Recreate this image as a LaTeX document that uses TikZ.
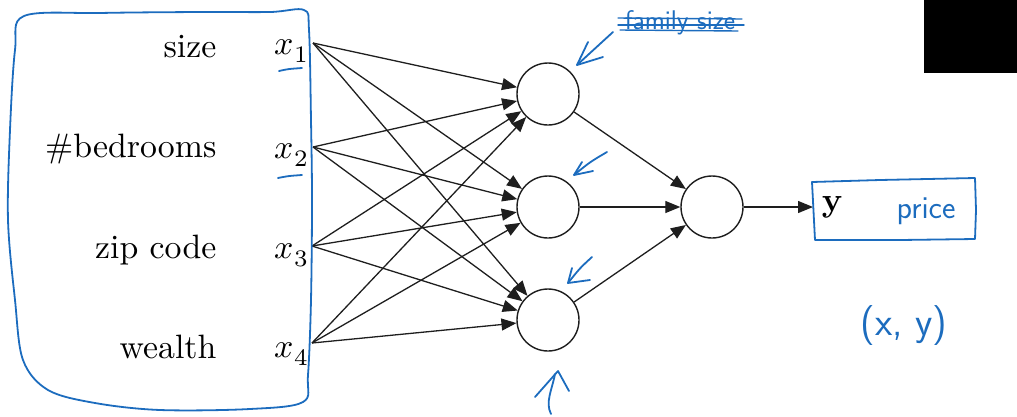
\documentclass[tikz,border=0pt]{standalone}
\usepackage{unicode-math}
\setmathfont{Latin Modern Math}
\usetikzlibrary{arrows.meta}
\definecolor{pen}{RGB}{28,108,190}
\definecolor{wire}{RGB}{30,30,30}
\begin{document}
\begin{tikzpicture}[x=1pt,y=-1pt,
  lbl/.style={font=\fontsize{10}{12}\selectfont, scale=3.38, inner sep=0pt},
  neuron/.style={circle, draw=wire, line width=1.4pt, minimum size=62pt, inner sep=0pt},
  conn/.style={draw=wire, line width=1.3pt, -{Triangle[length=15pt,width=12pt]}},
  ink/.style={draw=pen, line width=1.8pt, line cap=round, line join=round},
  hand/.style={text=pen, font=\sffamily\fontsize{30}{36}\selectfont, inner sep=0pt}]
\useasboundingbox (0,0) rectangle (1017,416);
\fill[black] (924,0) rectangle (1017,73);

% input labels
\node[lbl, anchor=base east] (l1) at (217,57) {size};
\node[lbl, anchor=base east] (l2) at (217,157) {\#bedrooms};
\node[lbl, anchor=base east] (l3) at (217,258) {zip code};
\node[lbl, anchor=base east] (l4) at (217,358) {wealth};
\node[lbl, anchor=base west] (x1) at (274,54) {$x_1$};
\node[lbl, anchor=base west] (x2) at (274,158) {$x_2$};
\node[lbl, anchor=base west] (x3) at (274,258) {$x_3$};
\node[lbl, anchor=base west] (x4) at (274,357) {$x_4$};
\coordinate (i1) at (313,43);
\coordinate (i2) at (313,147);
\coordinate (i3) at (312,246);
\coordinate (i4) at (312,343);

% neurons
\node[neuron] (h1) at (548,94) {};
\node[neuron] (h2) at (548,207) {};
\node[neuron] (h3) at (548,320) {};
\node[neuron] (o) at (712,207) {};
\node[font=\bfseries\fontsize{10}{12}\selectfont, scale=3.38, inner ysep=0pt, inner xsep=2.4pt, anchor=west] (y) at (813,207) {y};

\foreach \i in {1,...,4}{
  \foreach \j in {1,2,3}{
    \draw[conn] (i\i) -- (h\j);
  }
}
\foreach \j in {1,2,3}{ \draw[conn] (h\j) -- (o); }
\draw[conn] (o) -- (y.west);

% hand-drawn annotations
\draw[ink] plot[smooth cycle, tension=0.55] coordinates {
  (24,16) (100,13) (200,12) (270,12) (304,10) (309,30) (311,120) (312,200)
  (311,300) (308,375) (303,402) (250,409) (160,410) (95,403) (48,390)
  (23,360) (15,300) (8,220) (10,130) (15,50)};
\draw[ink] (279,71) .. controls (288,69) .. (302,68);
\draw[ink] (278,178) .. controls (288,176) .. (302,175);

\draw[ink] (812,182) -- (880,180) -- (975,178) -- (976,210) -- (975,239) -- (900,240) -- (815,240) -- cycle;
\node[hand, font=\sffamily\fontsize{32}{36}\selectfont] (price) at (926,211) {price};
\node[hand, font=\sffamily\fontsize{40}{44}\selectfont] (xy) at (904,326) {(x, y)};

\node[hand, font=\sffamily\fontsize{27}{30}\selectfont] (fam) at (680,23) {family size};
\draw[ink, line width=1.4pt] (618,18) -- (742,19);
\draw[ink, line width=1.4pt] (618,25) -- (744,25);
\draw[ink, line width=1.4pt] (620,30) -- (738,31);

\draw[ink] (613,32) -- (577,65);
\draw[ink] (588,42) -- (577,65) -- (603,57);
\draw[ink] (607,152) .. controls (590,162) .. (574,175);
\draw[ink] (582,162) -- (574,175) -- (593,171);
\draw[ink] (592,257) .. controls (580,268) .. (568,283);
\draw[ink] (572,268) -- (568,283) -- (590,280);
\draw[ink] (535,397) -- (558,371) -- (569,391);
\draw[ink] (555,374) .. controls (552,390) and (545,402) .. (551,414);
\end{tikzpicture}
\end{document}
